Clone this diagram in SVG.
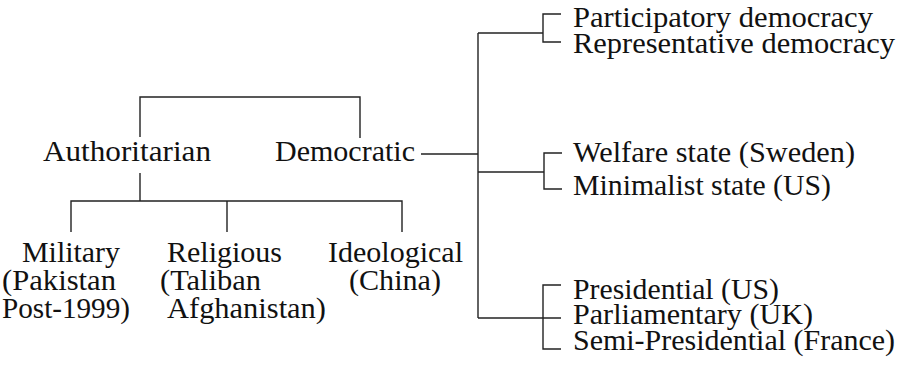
<svg xmlns="http://www.w3.org/2000/svg" width="907" height="367" viewBox="0 0 907 367">
<style>
.c{fill:none;stroke:#222;stroke-width:1.4}
.t{font-family:'Liberation Serif',serif;font-size:28.5px;fill:#111}
</style>
<rect width="907" height="367" fill="#fff"/>
<g id="connectors" class="c">
<path d="M140,137 V97 H360 V138"/>
<path d="M140,173 V201"/>
<path d="M71,232 V201 H402 V232"/>
<path d="M227,201 V232"/>
<path d="M421,154 H478"/>
<path d="M478,33 V318"/>
<path d="M478,33 H543"/>
<path d="M561,14 H543 V42 H561"/>
<path d="M478,172 H544"/>
<path d="M562,153 H544 V189 H562"/>
<path d="M478,318 H561"/>
<path d="M561,285 H543 V349 H561"/>
</g>
<g id="authoritarian"><text class="t" x="43" y="161" textLength="168" lengthAdjust="spacingAndGlyphs">Authoritarian</text></g>
<g id="democratic"><text class="t" x="275" y="161" textLength="140" lengthAdjust="spacingAndGlyphs">Democratic</text></g>
<g id="participatory"><text class="t" x="573" y="27" textLength="300" lengthAdjust="spacingAndGlyphs">Participatory democracy</text></g>
<g id="representative"><text class="t" x="573" y="53" textLength="322" lengthAdjust="spacingAndGlyphs">Representative democracy</text></g>
<g id="welfare"><text class="t" x="573" y="162" textLength="282" lengthAdjust="spacingAndGlyphs">Welfare state (Sweden)</text></g>
<g id="minimalist"><text class="t" x="573" y="195" textLength="258" lengthAdjust="spacingAndGlyphs">Minimalist state (US)</text></g>
<g id="presidential"><text class="t" x="573" y="299" textLength="206" lengthAdjust="spacingAndGlyphs">Presidential (US)</text></g>
<g id="parliamentary"><text class="t" x="573" y="324" textLength="240" lengthAdjust="spacingAndGlyphs">Parliamentary (UK)</text></g>
<g id="semipresidential"><text class="t" x="573" y="350" textLength="322" lengthAdjust="spacingAndGlyphs">Semi-Presidential (France)</text></g>
<g id="military">
<text class="t" x="22" y="262" textLength="98" lengthAdjust="spacingAndGlyphs">Military</text>
<text class="t" x="2" y="290" textLength="114" lengthAdjust="spacingAndGlyphs">(Pakistan</text>
<text class="t" x="2" y="318" textLength="128" lengthAdjust="spacingAndGlyphs">Post-1999)</text>
</g>
<g id="religious">
<text class="t" x="167" y="262" textLength="115" lengthAdjust="spacingAndGlyphs">Religious</text>
<text class="t" x="160" y="290" textLength="101" lengthAdjust="spacingAndGlyphs">(Taliban</text>
<text class="t" x="167" y="318" textLength="159" lengthAdjust="spacingAndGlyphs">Afghanistan)</text>
</g>
<g id="ideological">
<text class="t" x="328" y="262" textLength="135" lengthAdjust="spacingAndGlyphs">Ideological</text>
<text class="t" x="349" y="290" textLength="92" lengthAdjust="spacingAndGlyphs">(China)</text>
</g>
</svg>
